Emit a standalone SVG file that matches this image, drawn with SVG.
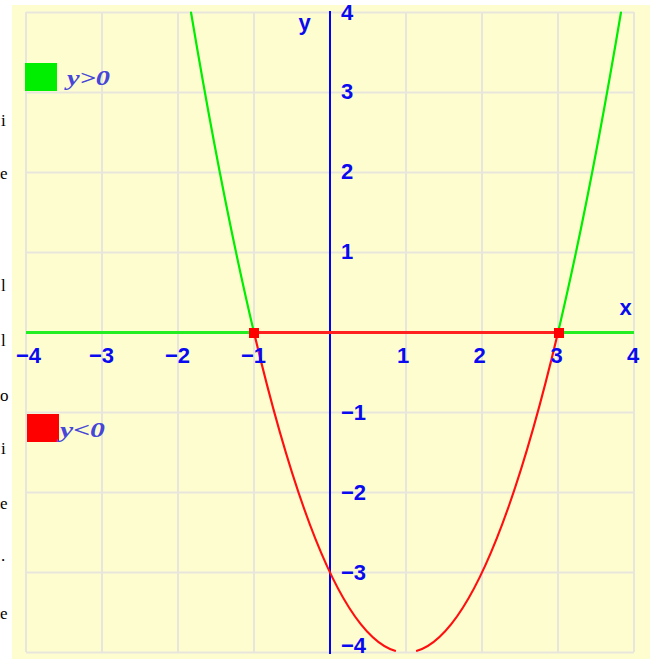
<svg xmlns="http://www.w3.org/2000/svg" width="656" height="659" viewBox="0 0 656 659">
<style>
.grid{stroke:#e8e6dc;stroke-width:2;fill:none}
.lab{font-family:"Liberation Sans",Arial,sans-serif;font-weight:bold;font-size:22px;fill:#0a0af0}
.leg{font-family:"Liberation Serif","Times New Roman",serif;font-style:italic;font-weight:bold;font-size:22px;fill:#4646d8}
.frag{font-family:"Liberation Serif","Times New Roman",serif;font-size:17px;fill:#000}
.curve{fill:none;stroke-width:2.2;stroke-linecap:round}
</style>
<defs>
<clipPath id="plot"><rect x="12" y="5" width="638" height="654"/></clipPath>
</defs>
<rect x="0" y="0" width="656" height="659" fill="#ffffff"/>
<g id="page-fragments">
<text class="frag" x="1" y="126">i</text>
<text class="frag" x="0" y="179">e</text>
<text class="frag" x="1" y="291">l</text>
<text class="frag" x="1" y="346">l</text>
<text class="frag" x="0" y="401">o</text>
<text class="frag" x="1" y="454">i</text>
<text class="frag" x="0" y="509">e</text>
<text class="frag" x="1" y="561">.</text>
<text class="frag" x="0" y="619">e</text>
</g>
<g clip-path="url(#plot)">
<rect id="background" x="12" y="5" width="638" height="654" fill="#fefdd0"/>
<g id="grid" class="grid">
<path d="M26 12V652M102 12V652M178 12V652M254 12V652M406 12V652M482 12V652M558 12V652M634 12V652"/>
<path d="M26 12.5H634M26 92.5H634M26 172.5H634M26 252.5H634M26 412.5H634M26 492.5H634M26 572.5H634M26 652.5H634"/>
</g>
<g id="y-axis">
<line x1="330" y1="11" x2="330" y2="654" stroke="#0000ff" stroke-width="2"/>
</g>
<g id="connectors">
<path class="curve" stroke="#00ee00" d="M191.04 12.5Q222.52 199.95 254 332.5"/>
<path class="curve" stroke="#00ee00" d="M558 332.5Q589.48 199.95 620.96 12.5"/>
<path class="curve" stroke="#ff1010" d="M254 332.5Q324.49 629.3 394.98 650.82"/>
<path class="curve" stroke="#ff1010" d="M417.02 650.82Q487.51 629.3 558 332.5"/>
<line x1="26" y1="332.5" x2="254" y2="332.5" stroke="#22ee22" stroke-width="3"/>
<line x1="254" y1="332.5" x2="558" y2="332.5" stroke="#ff2020" stroke-width="3"/>
<line x1="558" y1="332.5" x2="634" y2="332.5" stroke="#22ee22" stroke-width="3"/>
</g>
<g id="root-left"><rect x="249" y="328" width="10" height="10" fill="#ff0000"/></g>
<g id="root-right"><rect x="554" y="328" width="10" height="10" fill="#ff0000"/></g>
<g id="x-labels" class="lab">
<text x="41" y="363" text-anchor="end">−4</text>
<text x="114" y="363" text-anchor="end">−3</text>
<text x="190" y="363" text-anchor="end">−2</text>
<text x="266" y="363" text-anchor="end">−1</text>
<text x="403" y="363" text-anchor="middle">1</text>
<text x="479.5" y="363" text-anchor="middle">2</text>
<text x="556.5" y="363" text-anchor="middle">3</text>
<text x="633" y="363" text-anchor="middle">4</text>
<text x="625.5" y="315" text-anchor="middle">x</text>
</g>
<g id="y-labels" class="lab">
<text x="341" y="20">4</text>
<text x="341" y="99">3</text>
<text x="341" y="179">2</text>
<text x="341" y="259">1</text>
<text x="341" y="420">−1</text>
<text x="341" y="500">−2</text>
<text x="341" y="580">−3</text>
<text x="341" y="653">−4</text>
<text x="304.5" y="30" text-anchor="middle">y</text>
</g>
<g id="legend-positive">
<rect x="25" y="63" width="32" height="28" fill="#00ee00"/>
<text class="leg" x="67" y="85" textLength="43" lengthAdjust="spacingAndGlyphs">y&gt;0</text>
</g>
<g id="legend-negative">
<rect x="27" y="414" width="32" height="28" fill="#ff0000"/>
<text class="leg" x="60" y="437" textLength="45" lengthAdjust="spacingAndGlyphs">y&lt;0</text>
</g>
</g>
</svg>
